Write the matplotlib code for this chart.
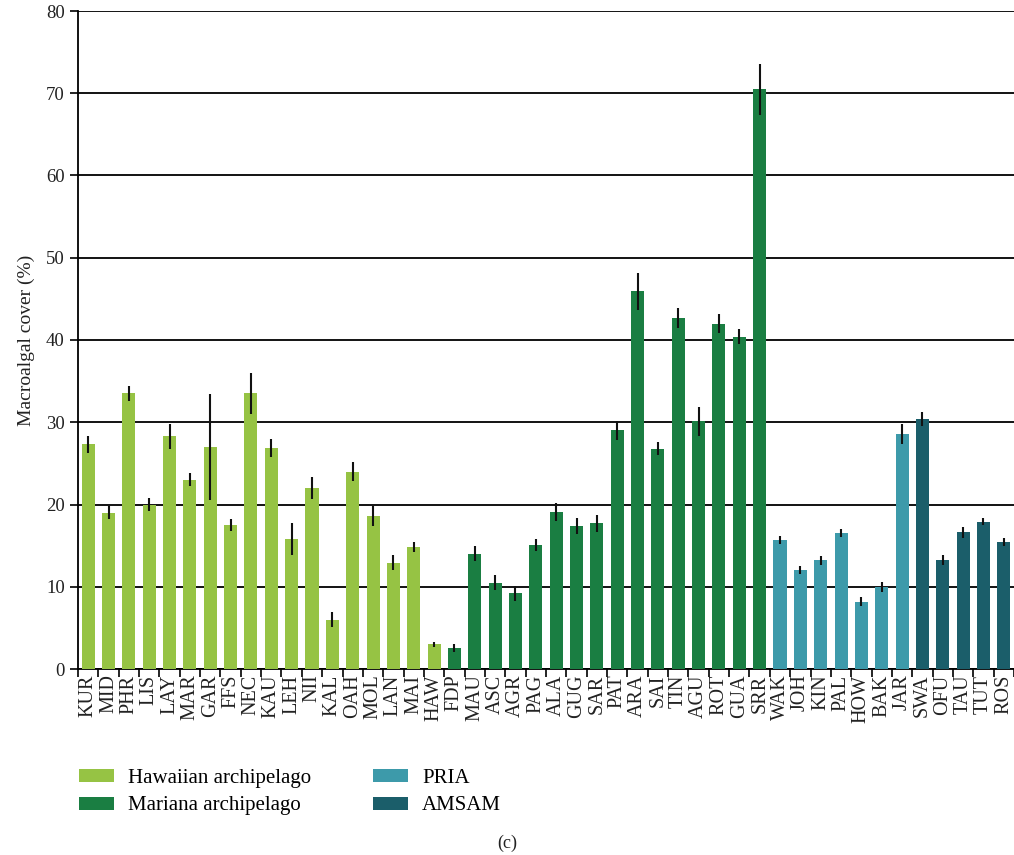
import numpy as np
import matplotlib.pyplot as plt
from matplotlib.patches import Patch

plt.rcParams['font.family'] = ['Liberation Serif', 'DejaVu Serif']

hawaii_sites = ["KUR", "MID", "PHR", "LIS", "LAY", "MAR", "GAR", "FFS", "NEC",
                "KAU", "LEH", "NII", "KAL", "OAH", "MOL", "LAN", "MAI", "HAW"]
hawaii_cover = [27.3, 19.0, 33.5, 20.0, 28.3, 23.0, 27.0, 17.5, 33.5,
                26.9, 15.8, 22.0, 6.0, 24.0, 18.6, 12.9, 14.8, 3.0]
hawaii_err = [1.0, 0.8, 0.9, 0.8, 1.5, 0.8, 6.4, 0.7, 2.5,
              1.1, 1.9, 1.3, 0.9, 1.2, 1.2, 0.9, 0.6, 0.3]

mariana_sites = ["FDP", "MAU", "ASC", "AGR", "PAG", "ALA", "GUG", "SAR",
                 "PAT", "ARA", "SAI", "TIN", "AGU", "ROT", "GUA", "SRR"]
mariana_cover = [2.6, 14.0, 10.5, 9.2, 15.1, 19.1, 17.4, 17.7,
                 29.0, 45.9, 26.8, 42.7, 30.1, 42.0, 40.4, 70.5]
mariana_err = [0.5, 0.9, 0.9, 0.9, 0.7, 1.1, 1.0, 1.0,
               1.1, 2.2, 0.8, 1.2, 1.8, 1.2, 0.9, 3.1]

pria_sites = ["WAK", "JOH", "KIN", "PAL", "HOW", "BAK", "JAR"]
pria_cover = [15.7, 12.0, 13.2, 16.5, 8.2, 10.0, 28.6]
pria_err = [0.5, 0.5, 0.5, 0.5, 0.5, 0.6, 1.2]

amsam_sites = ["SWA", "OFU", "TAU", "TUT", "ROS"]
amsam_cover = [30.4, 13.2, 16.6, 17.9, 15.4]
amsam_err = [0.8, 0.6, 0.7, 0.4, 0.5]

groups = [
    ("Hawaiian archipelago", hawaii_sites, hawaii_cover, hawaii_err, "#96c344"),
    ("Mariana archipelago", mariana_sites, mariana_cover, mariana_err, "#1a7e42"),
    ("PRIA", pria_sites, pria_cover, pria_err, "#3d9aaa"),
    ("AMSAM", amsam_sites, amsam_cover, amsam_err, "#1b5e6a"),
]

fig = plt.figure(figsize=(10.14, 8.55), dpi=100)
ax = fig.add_axes([78 / 1014, 1 - 669 / 855, 1 - 78 / 1014, (669 - 11) / 855])

labels = []
handles = []
start = 0
for name, sites, cover, err, color in groups:
    x = np.arange(start, start + len(sites))
    ax.bar(x, cover, width=0.64, color=color, zorder=3)
    ax.errorbar(x, cover, yerr=err, fmt='none', ecolor='#111111',
                elinewidth=1.5, capsize=0, zorder=4)
    labels += sites
    handles.append(Patch(facecolor=color, label=name))
    start += len(sites)

n = len(labels)
ax.set_xlim(-0.5, n - 0.65)
ax.set_ylim(0, 80)
ax.set_yticks(np.arange(0, 81, 10))
ax.yaxis.grid(True, color='black', linewidth=1.3, zorder=0)
ax.set_axisbelow(True)

ax.set_xticks(np.arange(n))
ax.set_xticklabels(labels, rotation=90, fontsize=14.5, color='#222222')
ax.set_xticks(np.arange(n + 1) - 0.5, minor=True)
ax.tick_params(axis='x', which='major', length=0, pad=4)
ax.tick_params(axis='x', which='minor', length=6, width=1.2, direction='out')
ax.tick_params(axis='y', length=6, width=1.2, labelsize=13.5, labelcolor='#222222')

for side in ['top', 'right']:
    ax.spines[side].set_visible(False)
for side in ['left', 'bottom']:
    ax.spines[side].set_linewidth(1.3)

ax.set_ylabel("Macroalgal cover (%)", fontsize=14, color='#222222', labelpad=8)

# legend below the axes, two columns
fig.legend(handles=handles, ncol=2,
           loc='upper left', bbox_to_anchor=(61 / 1014, 1 - 751 / 855),
           frameon=False, fontsize=15, handlelength=1.68, handleheight=0.58,
           handletextpad=0.67, columnspacing=3.0, labelspacing=0.42,
           borderpad=0.35)

fig.text(507 / 1014, 1 - 843 / 855, "(c)", ha='center', va='center',
         fontsize=13, color='#222222')

fig.savefig("out.png", dpi=100)
